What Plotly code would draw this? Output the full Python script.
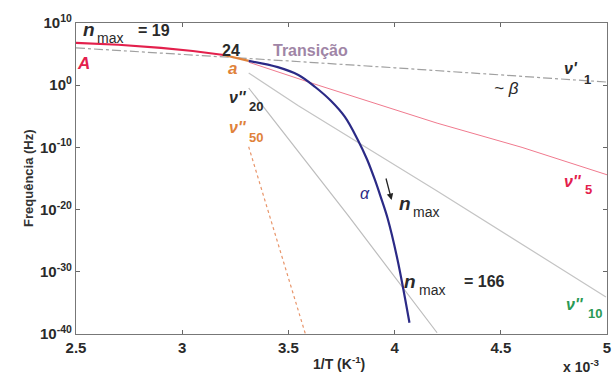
import plotly.graph_objects as go

# x in units of 1e-3 K^-1 ; y stored as log10(frequency / Hz)
x_A = [2.5, 2.7, 2.9, 3.05, 3.196]
logf_A = [6.8, 6.5, 6.0, 5.5, 4.85]

x_a = [3.196, 3.25, 3.313]
logf_a = [4.85, 4.4, 3.9]

x_alpha = [3.313, 3.45, 3.547, 3.626, 3.7, 3.766, 3.827, 3.87, 3.907, 3.935, 3.967, 4.014, 4.07]
logf_alpha = [3.9, 2.9, 1.64, -0.29, -2.5, -5.1, -8.8, -11.9, -15.2, -18.0, -21.4, -28.1, -38.2]

x_v1 = [2.5, 3.0, 3.5, 4.0, 4.5, 5.0]
logf_v1 = [6.0, 5.0, 3.9, 2.8, 1.6, 0.5]

x_v5 = [3.313, 3.64, 4.2, 4.6, 5.0]
logf_v5 = [3.7, 0.0, -6.1, -10.0, -14.4]

x_v10 = [3.313, 3.547, 4.2, 4.995]
logf_v10 = [1.96, -3.3, -17.0, -34.05]

x_v20 = [3.313, 3.78, 4.20]
logf_v20 = [-0.45, -20.9, -39.8]

x_v50 = [3.313, 3.58]
logf_v50 = [-9.9, -40.0]

y_tick_exp = [10, 0, -10, -20, -30, -40]
x_tick_vals = [2.5, 3.0, 3.5, 4.0, 4.5, 5.0]
x_tick_text = ["2.5", "3", "3.5", "4", "4.5", "5"]


def f(v):
    return [10 ** e for e in v]


FONT = "Liberation Sans, Arial, sans-serif"
fig = go.Figure()

series = [
    (x_v1, logf_v1, dict(color="#a0a0a0", width=1.2, dash="dashdot")),
    (x_v5, logf_v5, dict(color="#f07a8e", width=1)),
    (x_v10, logf_v10, dict(color="#c4c4c4", width=1.2)),
    (x_v20, logf_v20, dict(color="#bdbdbd", width=1.2)),
    (x_v50, logf_v50, dict(color="#e8956a", width=1.2, dash="dot")),
    (x_A, logf_A, dict(color="#e3204c", width=2.2)),
    (x_a, logf_a, dict(color="#e0823a", width=2.2)),
    (x_alpha, logf_alpha, dict(color="#2b2a86", width=2.2, shape="spline")),
]
for xs, ls, line in series:
    fig.add_trace(go.Scatter(x=xs, y=f(ls), mode="lines", line=line,
                             showlegend=False, hoverinfo="skip"))

L, R, T, B = 76, 611, 23, 334


def P(px, py):
    return (px - L) / (R - L), 1 - (py - T) / (B - T)


anns = []


def txt(s, px, py, size=15, color="#2a2a2a", bold=True, italic=False, xanchor="center"):
    x, y = P(px, py)
    t = s
    if bold:
        t = "<b>" + t + "</b>"
    if italic:
        t = "<i>" + t + "</i>"
    anns.append(dict(text=t, x=x, y=y, xref="paper", yref="paper", showarrow=False,
                     xanchor=xanchor, yanchor="middle",
                     font=dict(family=FONT, size=size, color=color)))


# n_max = 19
txt("n", 89, 29, size=19, italic=True)
txt("max", 110, 38, size=14, bold=False)
txt("= 19", 155, 30, size=16)
txt("24", 232, 50, size=16)
txt("Transição", 312, 50, size=16, color="#a085a6")
txt("A", 84, 63, size=17, color="#e3204c", italic=True)
txt("a", 234, 69, size=17, color="#e0823a", italic=True)
# nu''20
txt("ν''", 239, 97, size=16, italic=True)
txt("20", 257, 106, size=13)
# nu''50
txt("ν''", 239, 127, size=16, color="#e0823a", italic=True)
txt("50", 257, 137, size=13, color="#e0823a")
# nu'1
txt("ν'", 575, 69, size=16, italic=True)
txt("1", 591, 79, size=13)
txt("~ β", 510, 88, size=17, bold=False, italic=True)
# nu''5
txt("ν''", 577, 181, size=16, color="#e3204c", italic=True)
txt("5", 592, 189, size=13, color="#e3204c")
# nu''10
txt("ν''", 579, 304, size=16, color="#2a9a55", italic=True)
txt("10", 599, 313, size=13, color="#2a9a55")
txt("α", 367, 194, size=16, color="#2b2a86", bold=False, italic=True)
# n_max arrow label
txt("n", 407, 203, size=19, italic=True)
txt("max", 429, 212, size=14, bold=False)
# n_max = 166
txt("n", 413, 281, size=19, italic=True)
txt("max", 435, 290, size=14, bold=False)
txt("= 166", 488, 281, size=16)
# axis titles
txt("1/T (K<sup>-1</sup>)", 341, 363, size=14, bold=True)
txt("x 10<sup>-3</sup>", 585, 366, size=14)
ax0, ay0 = P(394, 200)
anns.append(dict(x=ax0, y=ay0, ax=-6, ay=-23, xref="paper", yref="paper",
                 axref="pixel", ayref="pixel", showarrow=True, arrowhead=2,
                 arrowsize=1, arrowwidth=1.3, arrowcolor="#222", text=""))
x, y = P(18, 178)
anns.append(dict(text="<b>Frequência (Hz)</b>", x=x, y=y, xref="paper", yref="paper",
                 showarrow=False, textangle=-90,
                 font=dict(family=FONT, size=13, color="#333")))

fig.update_layout(
    width=616, height=374,
    margin=dict(l=L, r=616 - R, t=T, b=374 - B),
    paper_bgcolor="white", plot_bgcolor="white",
    annotations=anns,
    font=dict(family=FONT, color="#2a2a2a"),
    xaxis=dict(range=[2.5, 5.0], tickvals=x_tick_vals, ticktext=["<b>%s</b>" % t for t in x_tick_text],
               ticks="inside", ticklen=4, tickcolor="#666", showline=True, linecolor="#777",
               linewidth=1.2, mirror="ticks", showgrid=False, zeroline=False,
               tickfont=dict(size=15, family=FONT, color="#2a2a2a")),
    yaxis=dict(type="log", range=[-40, 10], tickvals=[10 ** e for e in y_tick_exp],
               ticktext=["<b>10<sup>%d</sup></b>" % e for e in y_tick_exp],
               ticks="inside", ticklen=4, tickcolor="#666", showline=True, linecolor="#777",
               linewidth=1.2, mirror="ticks", showgrid=False, zeroline=False,
               tickfont=dict(size=15, family=FONT, color="#2a2a2a")),
)

fig.write_html("out.html")
